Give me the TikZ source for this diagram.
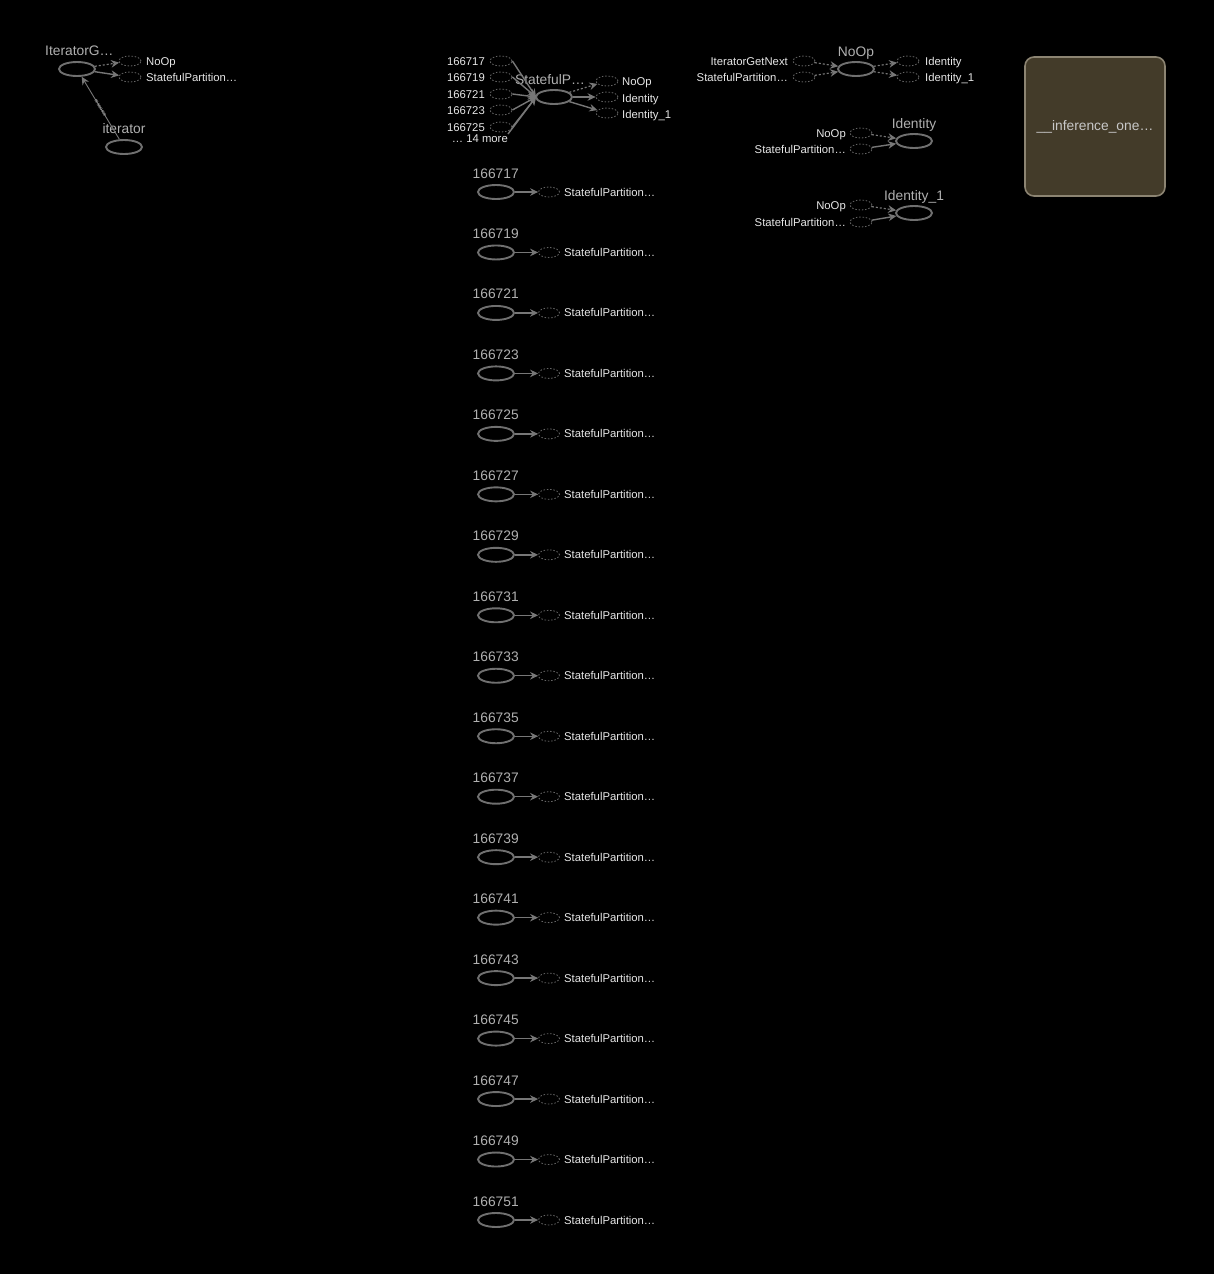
\documentclass[tikz,border=0pt]{standalone}
\usepackage{fontspec}
\setmainfont{Liberation Sans}
\usetikzlibrary{shapes.geometric,arrows.meta}
\definecolor{bgc}{HTML}{000000}
\definecolor{edgec}{HTML}{777777}
\definecolor{opc}{HTML}{707070}
\definecolor{dashc}{HTML}{666666}
\definecolor{biglab}{HTML}{B0B0B0}
\definecolor{smalllab}{HTML}{E6E6E6}
\definecolor{boxfill}{HTML}{433B29}
\definecolor{boxdraw}{HTML}{8C8472}
\definecolor{boxtext}{HTML}{C8C8C8}
\tikzset{
  opnode/.style={ellipse,draw=opc,line width=1.9pt,minimum width=36pt,minimum height=14pt,inner sep=0pt},
  refnode/.style={ellipse,draw=dashc,line width=0.8pt,dash pattern=on 1.5pt off 1.8pt,minimum width=22pt,minimum height=10pt,inner sep=0pt},
  smallref/.style={ellipse,draw=dashc,line width=0.8pt,dash pattern=on 1.5pt off 1.8pt,minimum width=21pt,minimum height=10pt,inner sep=0pt},
  big/.style={text=biglab,font=\fontsize{13.8}{14}\selectfont,inner sep=0pt},
  small/.style={text=smalllab,font=\fontsize{11.3}{12}\selectfont,inner sep=0pt},
  edgesolid/.style={draw=edgec,line width=1.4pt,-{Stealth[length=8pt,width=7.5pt]}},
  edgedash/.style={draw=edgec,line width=1.2pt,dash pattern=on 2pt off 2pt,-{Stealth[length=8pt,width=7.5pt]}},
  plainedge/.style={draw=edgec,line width=1.4pt},
}
\begin{document}
\begin{tikzpicture}[x=1pt,y=-1pt]
\fill[bgc] (0,0) rectangle (1214,1274);
\useasboundingbox (0,0) rectangle (1214,1274);

% ---------------- top-left: IteratorGetNext ----------------
\node[opnode] (ign) at (77,69) {};
\node[big,anchor=base west] (ignlab) at (45,55) {IteratorG…};
\node[refnode] (ign-noop) at (130,61) {};
\node[refnode] (ign-sp) at (130,77) {};
\node[small,anchor=base west] (ign-nooplab) at (146,65) {NoOp};
\node[small,anchor=base west] (ign-splab) at (146,81) {StatefulPartition…};
\draw[edgedash] (ign) -- (ign-noop);
\draw[edgesolid] (ign) -- (ign-sp);
\node[opnode] (it) at (124,147) {};
\node[big,anchor=base] (itlab) at (124,133) {iterator};
\draw[edgesolid,line width=0.9pt] (it) -- node[sloped,text=biglab,font=\fontsize{5}{5}\selectfont,inner sep=0pt] {resource} (ign);

% ---------------- middle top: StatefulPartitionedCall ----------------
\node[opnode] (sp) at (554,97) {};
\node[big,anchor=base] (splab) at (550,84) {StatefulP…};
\coordinate (spin) at (536,97);
\foreach \n/\y in {166717/61,166719/77,166721/94,166723/110,166725/127}{
  \node[refnode] (in\n) at (501,\y) {};
  \node[small,anchor=base east] (inlab\n) at (485,\y+4) {\n};
  \draw[edgesolid] (in\n.east) -- (spin);
}
\node[small,anchor=base east] (more) at (508,142) {… 14 more};
\draw[edgesolid] (more.north east) -- (spin);
\draw[plainedge] (spin) -- (sp);
\node[refnode] (sp-noop) at (607,81) {};
\node[refnode] (sp-id) at (607,97) {};
\node[refnode] (sp-id1) at (607,113) {};
\node[small,anchor=base west] (sp-nooplab) at (622,85) {NoOp};
\node[small,anchor=base west] (sp-idlab) at (622,102) {Identity};
\node[small,anchor=base west] (sp-id1lab) at (622,118) {Identity\_1};
\draw[edgedash] (sp) -- (sp-noop);
\draw[edgesolid] (sp) -- (sp-id);
\draw[edgesolid] (sp) -- (sp-id1);

% ---------------- column of constants ----------------
\foreach \n [count=\i from 0] in {166717,166719,166721,166723,166725,166727,166729,166731,166733,166735,166737,166739,166741,166743,166745,166747,166749,166751}{
  \pgfmathsetmacro{\yy}{192+60.47*\i}
  \node[opnode] (c\n) at (496,\yy) {};
  \node[big,anchor=base west] (clab\n) at (472.5,\yy-14) {\n};
  \node[smallref] (cr\n) at (549,\yy) {};
  \node[small,anchor=base west] (crlab\n) at (564,\yy+4) {StatefulPartition…};
  \draw[edgesolid] (c\n) -- (cr\n);
}

% ---------------- NoOp ----------------
\node[opnode] (noop) at (856,69) {};
\node[big,anchor=base] (nooplab) at (856,56) {NoOp};
\node[refnode] (no-ign) at (804,61) {};
\node[refnode] (no-sp) at (804,77) {};
\node[small,anchor=base east] (no-ignlab) at (788,65) {IteratorGetNext};
\node[small,anchor=base east] (no-splab) at (788,81) {StatefulPartition…};
\draw[edgedash] (no-ign) -- (noop);
\draw[edgedash] (no-sp) -- (noop);
\node[refnode] (no-id) at (908,61) {};
\node[refnode] (no-id1) at (908,77) {};
\node[small,anchor=base west] (no-idlab) at (925,65) {Identity};
\node[small,anchor=base west] (no-id1lab) at (925,81) {Identity\_1};
\draw[edgedash] (noop) -- (no-id);
\draw[edgedash] (noop) -- (no-id1);

% ---------------- Identity ----------------
\node[opnode] (id) at (914,141) {};
\node[big,anchor=base] (idlab) at (914,128) {Identity};
\node[refnode] (id-noop) at (861,133) {};
\node[refnode] (id-sp) at (861,149) {};
\node[small,anchor=base east] (id-nooplab) at (846,137) {NoOp};
\node[small,anchor=base east] (id-splab) at (846,153) {StatefulPartition…};
\draw[edgedash] (id-noop) -- (id);
\draw[edgesolid] (id-sp) -- (id);

% ---------------- Identity_1 ----------------
\node[opnode] (id1) at (914,213) {};
\node[big,anchor=base] (id1lab) at (914,200) {Identity\_1};
\node[refnode] (id1-noop) at (861,205) {};
\node[refnode] (id1-sp) at (861,222) {};
\node[small,anchor=base east] (id1-nooplab) at (846,209) {NoOp};
\node[small,anchor=base east] (id1-splab) at (846,226) {StatefulPartition…};
\draw[edgedash] (id1-noop) -- (id1);
\draw[edgesolid] (id1-sp) -- (id1);

% ---------------- function box ----------------
\node[draw=boxdraw,fill=boxfill,line width=1.6pt,rounded corners=9pt,minimum width=140pt,minimum height=139pt,inner sep=0pt] (fn) at (1095,126.5) {};
\node[text=boxtext,font=\fontsize{13.8}{14}\selectfont,inner sep=0pt] (fnlab) at (1095,127) {\_\_inference\_one…};
\end{tikzpicture}
\end{document}
